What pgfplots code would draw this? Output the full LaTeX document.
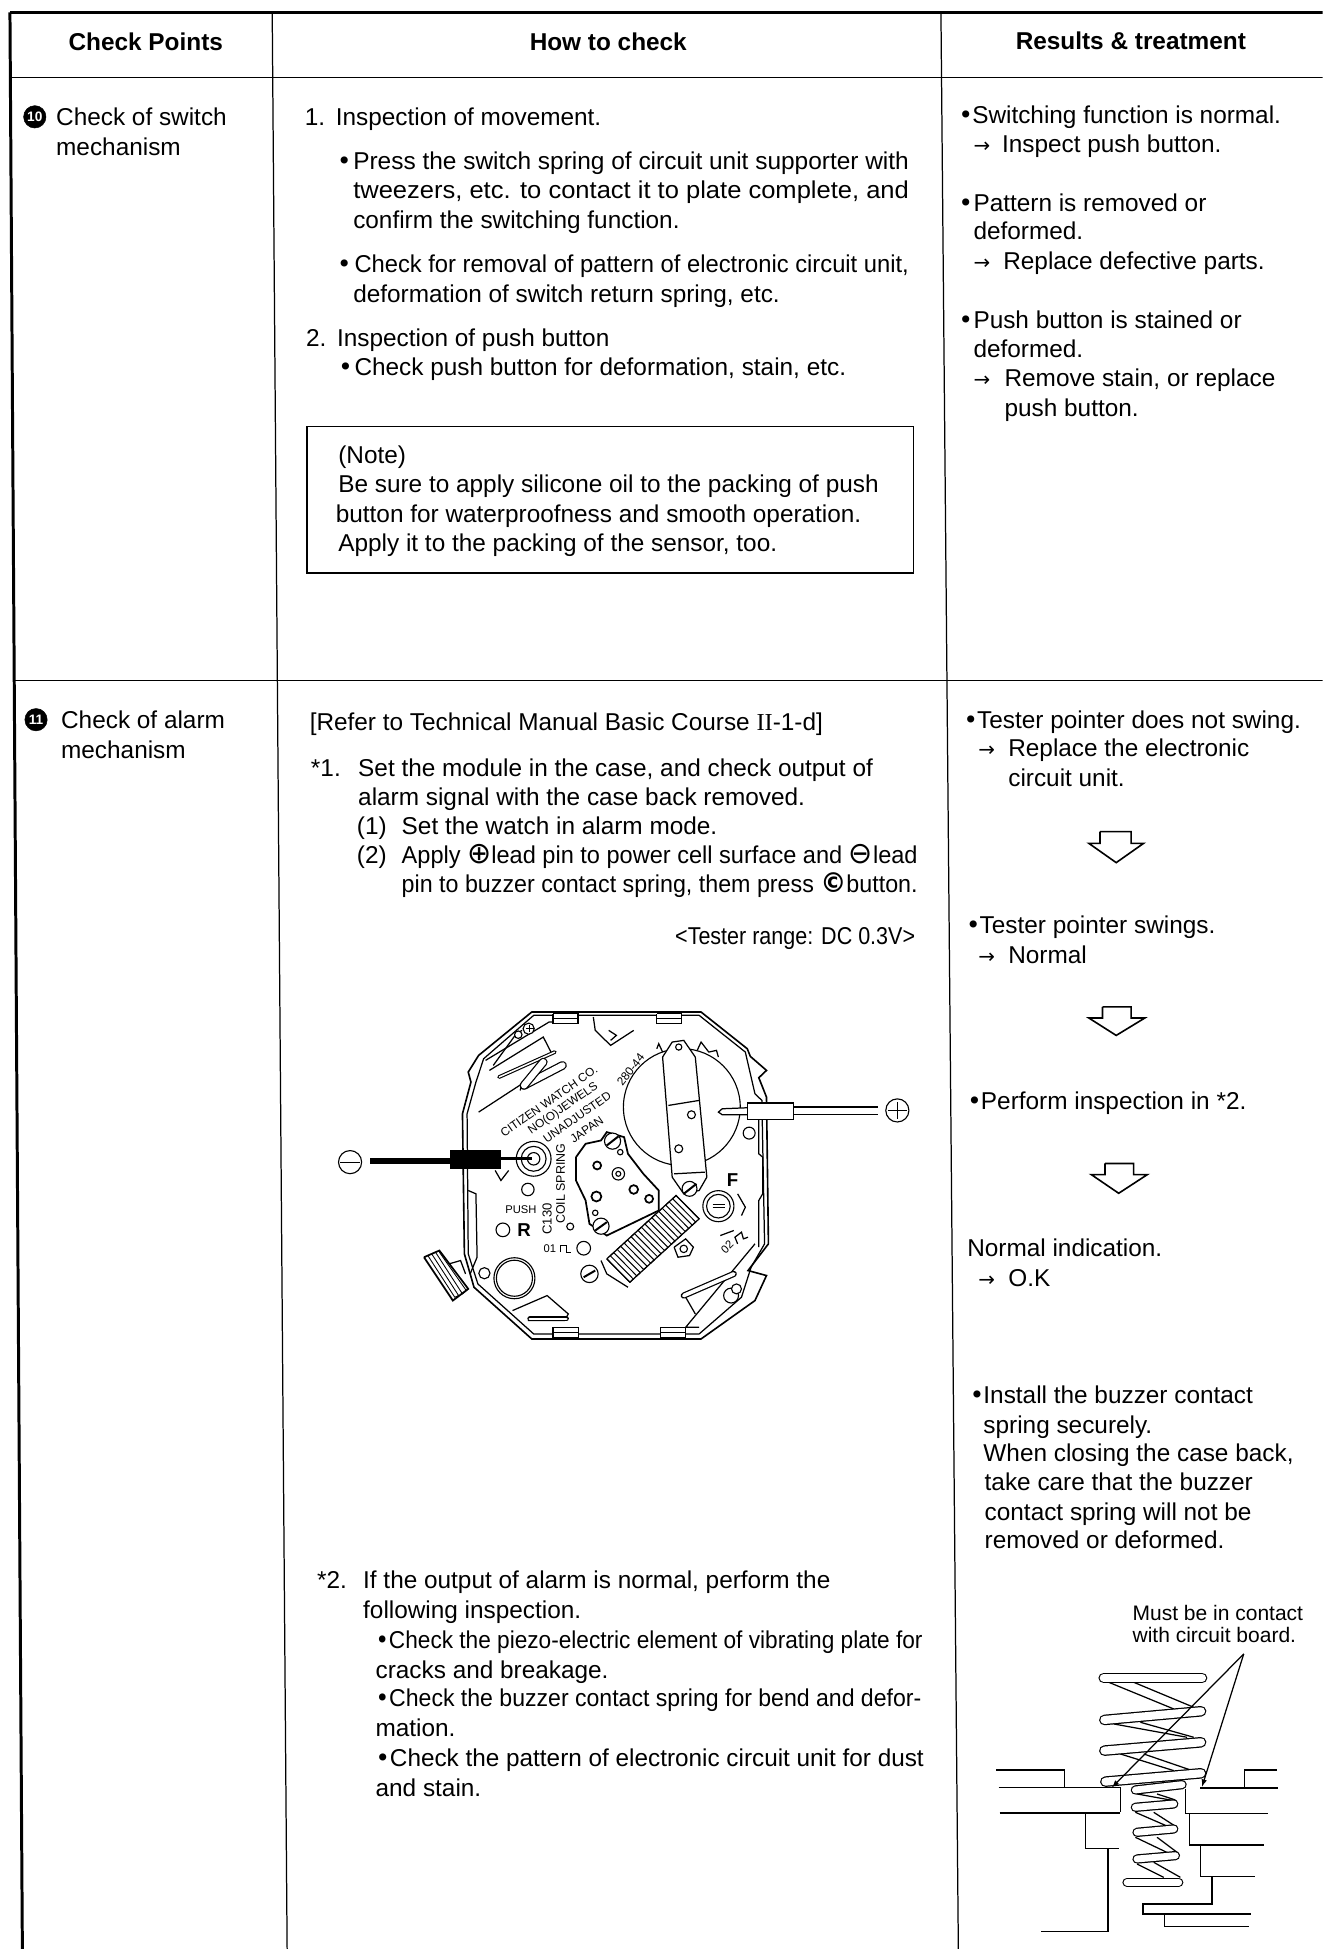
\documentclass[border=0pt]{standalone}
\usepackage{fontspec}
\setmainfont{Liberation Sans}
\newfontfamily\dejavu{DejaVu Sans}
\newfontfamily\serifroman{Liberation Serif}
\usepackage{pgfplots}
\pgfplotsset{compat=1.18}
\pgfplotsset{every axis/.append style={clip marker paths=true}}
\newcommand\Lp[2][]{\addplot[black,line width=1pt,forget plot,#1] coordinates {#2};}
\newcommand\Fp[2][]{\addplot[black,fill=white,line width=1pt,forget plot,#1] coordinates {#2};}
\newcommand\Cc[3][]{\addplot[only marks,mark=*,mark size=#2pt,forget plot,mark options={fill=white,draw=black,line width=.9pt,#1}] coordinates {(#3)};}
\newcommand\Tf{\fontsize{19.6}{23}\selectfont}
\newcommand\T[3]{\node[anchor=base west,inner sep=0pt,font=\Tf] at (axis cs:#1,#2) {#3};}
\newcommand\B[3]{\node[anchor=base west,inner sep=0pt,font=\Tf\bfseries] at (axis cs:#1,#2) {#3};}
\newcommand\W[4]{\node[anchor=base west,inner sep=0pt,font=\Tf] at (axis cs:#1,#3) {\resizebox{\dimexpr#2pt-#1pt\relax}{\height}{#4}};}
\newcommand\Ar[2]{\node[anchor=base west,inner sep=0pt,font=\fontsize{16}{18}\selectfont\dejavu] at (axis cs:#1,#2) {→};}
\newcommand\Sy[1]{{\dejavu #1}}
\newcommand\Bu{{\dejavu •}}
\newcommand\Sm[6][0]{\node[inner sep=0pt,rotate=#1,font=\fontsize{#5}{#5}\selectfont#6] at (axis cs:#2,#3) {#4};}
\newcommand\St[3][8.5]{\addplot[black,line width=#1pt,line cap=round,forget plot] coordinates {#2 #3};
 \addplot[white,line width=\dimexpr#1pt-2pt\relax,line cap=round,forget plot] coordinates {#2 #3};}
\begin{document}
\begin{tikzpicture}
\path[use as bounding box] (0pt,0pt) rectangle (1064pt,1568pt);
\begin{axis}[at={(0pt,0pt)},anchor=south west,scale only axis,width=1064pt,height=1568pt,
 xmin=0,xmax=1064,ymin=0,ymax=1568,y dir=reverse,axis lines=none,clip=true]
% table rules
\Lp[line width=2.4pt]{(8,10) (1064,10)}
\Lp[line width=2.4pt]{(8,10) (18,1568)}
\Lp{(219,10) (231,1568)}
\Lp{(757,10) (771,1568)}
\Lp{(9,62.5) (1064,62.5)}
\Lp{(12,547.5) (1064,547.5)}
% note box
\Lp{(247,343) (735,343) (735,461) (247,461) (247,343)}
% headers
\B{55}{41}{Check Points}
\B{426}{41}{How to check}
\B{817}{40}{Results \& treatment}
% first row, left
\addplot[only marks,mark=*,mark size=9pt,black,forget plot] coordinates {(28,94)};
\node[font=\fontsize{11}{12}\selectfont\bfseries,text=white,inner sep=0pt] at (axis cs:28,94) {10};
\T{45}{101}{Check of switch}
\T{45}{125}{mechanism}
% first row, middle
\T{245}{101}{1.}\T{270}{101}{Inspection of movement.}
\T{271}{136}{\Bu}\W{284}{731}{136}{Press the switch spring of circuit unit supporter with}
\W{284}{731}{160}{tweezers, etc. to contact it to plate complete, and}
\T{284}{184}{confirm the switching function.}
\T{271}{219}{\Bu}\W{285}{731}{219}{Check for removal of pattern of electronic circuit unit,}
\T{284}{243}{deformation of switch return spring, etc.}
\T{246}{279}{2.}\T{271}{279}{Inspection of push button}
\T{272}{302}{\Bu}\T{285}{302}{Check push button for deformation, stain, etc.}
\T{272}{373}{(Note)}
\T{272}{396}{Be sure to apply silicone oil to the packing of push}
\T{270}{420}{button for waterproofness and smooth operation.}
\T{272}{444}{Apply it to the packing of the sensor, too.}
% first row, right
\T{771}{99}{\Bu}\T{782}{99}{Switching function is normal.}
\Ar{783}{123}\T{806}{123}{Inspect push button.}
\T{771}{170}{\Bu}\T{783}{170}{Pattern is removed or}
\T{783}{193}{deformed.}
\Ar{783}{217}\T{807}{217}{Replace defective parts.}
\T{771}{264}{\Bu}\T{783}{264}{Push button is stained or}
\T{783}{288}{deformed.}
\Ar{783}{311}\T{808}{311}{Remove stain, or replace}
\T{808}{335}{push button.}
% second row, left
\addplot[only marks,mark=*,mark size=9pt,black,forget plot] coordinates {(29,579)};
\node[font=\fontsize{11}{12}\selectfont\bfseries,text=white,inner sep=0pt] at (axis cs:29,579) {11};
\T{49}{586}{Check of alarm}
\T{49}{610}{mechanism}
% second row, middle
\T{249}{588}{[Refer to Technical Manual Basic Course {\serifroman II}-1-d]}
\T{250}{625}{*1.}\T{288}{625}{Set the module in the case, and check output of}
\T{288}{648}{alarm signal with the case back removed.}
\T{287}{671}{(1)}\T{323}{671}{Set the watch in alarm mode.}
\T{287}{695}{(2)}\W{323}{738}{695}{Apply {\fontsize{24}{24}\selectfont\dejavu ⊕}lead pin to power cell surface and {\fontsize{24}{24}\selectfont\dejavu ⊖}lead}
\W{323}{738}{718}{pin to buzzer contact spring, them press {\fontsize{22}{22}\selectfont\dejavu\bfseries©}button.}
\W{543}{736}{760}{<Tester range: DC 0.3V>}
\T{255}{1278}{*2.}\T{292}{1278}{If the output of alarm is normal, perform the}
\T{292}{1302}{following inspection.}
\W{302}{742}{1326}{\Bu Check the piezo-electric element of vibrating plate for}
\T{302}{1350}{cracks and breakage.}
\W{302}{741}{1373}{\Bu Check the buzzer contact spring for bend and defor-}
\T{302}{1397}{mation.}
\W{302}{743}{1421}{\Bu Check the pattern of electronic circuit unit for dust}
\T{302}{1445}{and stain.}
% second row, right
\T{775}{586}{\Bu}\T{786}{586}{Tester pointer does not swing.}
\Ar{787}{609}\T{811}{609}{Replace the electronic}
\T{811}{633}{circuit unit.}
\T{777}{751}{\Bu}\T{788}{751}{Tester pointer swings.}
\Ar{787}{775}\T{811}{775}{Normal}
\T{778}{893}{\Bu}\T{789}{893}{Perform inspection in *2.}
\T{778}{1011}{Normal indication.}
\Ar{787}{1035}\T{811}{1035}{O.K}
\T{780}{1129}{\Bu}\T{791}{1129}{Install the buzzer contact}
\T{791}{1153}{spring securely.}
\T{791}{1176}{When closing the case back,}
\T{792}{1199}{take care that the buzzer}
\T{792}{1223}{contact spring will not be}
\T{792}{1246}{removed or deformed.}
% hollow arrows
\Lp[line width=1.3pt]{(885,669) (910,669) (910,678.5) (920,678.5) (898,694) (876,678.5) (885,678.5) (885,669)}
\Lp[line width=1.3pt]{(887,810) (910,810) (910,819) (921,819) (898,833) (876,819) (887,819) (887,810)}
\Lp[line width=1.3pt]{(889,936) (912,936) (912,945) (923,945) (900,960) (878,945) (889,945) (889,936)}
% spring caption
\node[anchor=base west,inner sep=0pt,font=\fontsize{16.9}{18}\selectfont] at (axis cs:911,1304) {Must be in contact};
\node[anchor=base west,inner sep=0pt,font=\fontsize{16.9}{18}\selectfont] at (axis cs:911,1321) {with circuit board.};
\end{axis}
% ---------- watch movement
\begin{axis}[at={(257.5pt,465.3pt)},anchor=south west,scale only axis,width=483pt,height=314pt,
 xmin=0,xmax=1560,ymin=0,ymax=1170,y dir=reverse,axis lines=none,clip=true]
% outline
\Lp[line width=1.3pt]{(550,95) (990,95) (1110,205) (1118,228) (1160,270) (1140,292) (1160,350) (1165,790) (1112,870) (1160,885) (1130,960) (990,1075) (550,1075) (400,920) (375,820) (370,400) (392,305) (385,275) (412,225) (550,95)}
\Lp{(555,105) (985,105) (1105,215) (1130,340) (1148,360) (1155,790) (1120,860) (1095,950) (985,1060) (555,1060) (410,910) (385,820) (382,400) (405,305) (425,235) (555,105)}
\Lp{(412,395) (525,310) (520,330)}
\Lp{(385,630) (405,640) (408,830) (390,880)}
\Lp{(1140,400) (1140,520) (1150,530) (1150,640) (1140,660) (1140,800)}
\Lp{(1130,790) (950,1040) (985,1040)}
\Lp{(430,240) (595,125) (610,125)}
\Lp{(450,255) (510,160) (525,150)}
\Lp{(440,270) (580,170) (600,215)}
% clips
\Fp{(605,100) (670,100) (670,130) (605,130) (605,100)}
\Fp{(875,100) (940,100) (940,130) (875,130) (875,100)}
\Lp{(605,115) (670,115)} \Lp{(875,115) (940,115)}
\Fp{(605,1040) (672,1040) (672,1070) (605,1070) (605,1040)}
\Fp{(885,1040) (950,1040) (950,1070) (885,1070) (885,1040)}
\Lp{(605,1055) (672,1055)} \Lp{(885,1055) (950,1055)}
\Lp{(710,110) (715,150) (755,195) (815,150)} \Lp{(750,150) (770,165) (755,180)}
% springs upper left
\Lp[line width=3pt,line cap=round]{(465,290) (610,215)}
\Lp[white,line width=1.2pt]{(465,290) (610,215)}
\Lp[line width=7pt,line cap=round]{(530,315) (630,255)}
\Lp[white,line width=5pt,line cap=round]{(530,315) (630,255)}
\Lp[line width=7pt,line cap=round]{(530,315) (580,245)}
\Lp[white,line width=5pt,line cap=round]{(530,315) (580,245)}
\Cc{3}{515,163} \Cc{4.5}{542,145}
\Lp{(545,135) (545,155)} \Lp{(535,145) (555,145)}
% battery
\Cc{47}{940,380}
\Fp{(890,230) (915,185) (945,180) (975,230) (1005,590) (985,630) (945,640) (915,590) (890,230)}
\Lp{(905,375) (985,360)} \Lp{(920,580) (1000,575)}
\Cc{3.2}{965,403} \Cc{3.2}{932,505} \Cc{2.5}{932,200}
\Lp{(875,205) (880,190) (890,215)} \Lp{(980,210) (990,185) (1010,215) (1030,210) (1035,230)}
% + lead
\Lp{(1230,380) (1450,380)} \Lp{(1230,402) (1450,402)}
\Fp{(1110,382) (1045,385) (1035,395) (1045,403) (1110,403)}
\Fp{(1110,368) (1230,368) (1230,418) (1110,418) (1110,368)}
\Cc{9.3}{1500,390}
\Lp{(1475,390) (1525,390)} \Lp{(1500,365) (1500,415)}
% - lead
\Cc{14}{555,535} \Cc{10}{555,535} \Cc{5}{555,535}
\Lp[line width=5pt]{(130,542) (340,542)}
\Fp[fill=black]{(340,510) (468,510) (468,565) (340,565) (340,510)}
\Lp[line width=2.2pt]{(468,535) (550,535)}
\Cc{9.3}{78,545}
\Lp{(52,545) (104,545)}
\Lp{(455,570) (470,600) (490,570)}
% circuit block
\Fp[line width=1.4pt]{(665,530) (690,490) (730,480) (745,455) (790,470) (800,520) (840,580) (880,630) (880,690) (745,765) (700,730) (690,660) (665,600) (665,530)}
\Cc{6.5}{760,482} \Cc{6.5}{730,737}
\Lp[line width=1.6pt]{(745,495) (775,468)} \Lp[line width=1.6pt]{(715,750) (745,725)}
\Cc[line width=1.4pt]{3.2}{720,555} \Cc{5}{775,580} \Cc{2}{775,580} \Cc[line width=1.4pt]{3.5}{815,627} \Cc[line width=1.4pt]{3.2}{855,655} \Cc[line width=1.4pt]{4}{718,648}
\Cc{2.2}{780,515} \Cc{2.2}{715,697}
% coil and screw
\Fp{(745,835) (925,645) (985,715) (805,905) (745,835)}
\Lp[line width=.8pt]{(745,835) (805,905) (814,895.5) (754,825.5) (763,816) (823,886) (832,876.5) (772,806.5) (781,797) (841,867) (850,857.5) (790,787.5) (799,778) (859,848) (868,838.5) (808,768.5) (817,759) (877,829) (886,819.5) (826,749.5) (835,740) (895,810) (904,800.5) (844,730.5) (853,721) (913,791) (922,781.5) (862,711.5) (871,702) (931,772) (940,762.5) (880,692.5) (889,683) (949,753) (958,743.5) (898,673.5) (907,664) (967,734) (976,724.5) (916,654.5) (925,645) (985,715)}
\Lp{(730,840) (745,880) (800,920)}
\Cc{6}{960,625} \Lp[line width=1.6pt]{(945,640) (978,610)}
\Fp{(920,800) (950,775) (970,800) (960,825) (930,830) (920,800)}
\Cc{3}{945,805}
\Cc{7}{700,880} \Lp[line width=1.6pt]{(685,890) (715,870)}
% F button
\Cc{12.5}{1035,677} \Cc{9.5}{1035,677}
\Lp{(1020,672) (1052,672)} \Lp{(1020,682) (1052,682)}
\Lp{(1085,640) (1105,680) (1095,705)}
\Lp{(1040,765) (1075,750)}
% lower parts
\Cc{16.5}{505,893} \Cc{14.5}{505,893}
\Cc{4.5}{427,878}
\Lp[line width=5pt,line cap=round]{(945,945) (1075,880)}
\Lp[white,line width=3pt,line cap=round]{(945,945) (1075,880)}
\Lp{(950,950) (975,1000)}
\Cc{6}{1068,945} \Cc{4}{1082,925}
\Lp{(500,990) (590,945) (645,1000) (635,1020) (540,1020)}
\Lp[line width=4pt,line cap=round]{(545,1015) (640,1015)}
\Lp[white,line width=2.2pt,line cap=round]{(545,1015) (640,1015)}
\Cc{4.8}{1115,458}
\Cc{5}{540,627} \Cc{5.5}{475,748} \Cc{2.8}{650,738} \Cc{5.5}{685,803}
% crown
\Fp[line width=1.4pt]{(270,830) (310,810) (385,925) (345,960) (270,830)}
\Lp[line width=.7pt]{(280,825) (350,950) (360,945) (290,820) (300,815) (370,940) (380,930) (310,815)}
\Lp{(335,850) (365,840) (378,880)}
% printed text
\Sm[35]{595}{362}{CITIZEN WATCH CO.}{9.5}{}
\Sm[35]{632}{385}{NO(O)JEWELS}{9.5}{}
\Sm[35]{668}{410}{UNADJUSTED}{9.5}{}
\Sm[35]{693}{448}{JAPAN}{9.5}{}
\Sm[52]{807}{268}{280-44}{9.5}{}
\Sm[90]{625}{610}{COIL SPRING}{10}{}
\Sm[90]{590}{715}{C130}{10.5}{}
\Sm[0]{522}{686}{PUSH}{9}{}
\Sm[0]{530}{750}{R}{15}{\bfseries}
\Sm[0]{1072}{600}{F}{15}{\bfseries}
\Sm[0]{597}{804}{01}{9}{}
\Lp{(625,815) (625,795) (640,795) (640,815) (652,815)}
\Sm[45]{1058}{800}{02}{9}{}
\Lp{(1085,790) (1078,770) (1095,755) (1100,775) (1112,770)}
\end{axis}
% ---------- buzzer spring
\begin{axis}[at={(772.6pt,0pt)},anchor=south west,scale only axis,width=291.3pt,height=296.4pt,
 xmin=0,xmax=1086,ymin=0,ymax=1105,y dir=reverse,axis lines=none,clip=true]
\Lp{(108,568) (312,568) (312,620)}
\Lp{(115,620) (480,620) (480,695)}
\Lp{(118,697) (480,697)}
\Lp{(375,697) (375,803) (475,803)}
\Lp{(443,803) (443,1052) (243,1052)}
\Lp{(720,622) (953,622)}
\Lp{(852,622) (852,568) (950,568)}
\Lp{(675,625) (675,698) (923,698)}
\Lp{(687,700) (687,793) (910,793)}
\Lp{(720,793) (720,888) (885,888)}
\Lp{(755,888) (755,970) (548,970) (548,1000) (872,1000)}
\Lp{(613,1000) (613,1038) (865,1038)}
% coil links
\Lp{(445,305) (640,385)} \Lp{(520,305) (700,380)}
\Lp{(460,430) (680,470)} \Lp{(540,425) (700,470)}
\Lp{(480,520) (640,570)} \Lp{(550,520) (690,568)}
\Lp{(530,640) (640,660)} \Lp{(590,640) (645,658)}
\Lp{(525,695) (640,745)} \Lp{(580,695) (650,740)}
\Lp{(525,770) (640,825)} \Lp{(590,770) (650,815)}
\Lp{(530,850) (610,890)} \Lp{(580,845) (660,890)}
% coils
\St{(430,292)}{(725,292)}
\St{(432,418)}{(722,392)}
\St{(432,510)}{(722,485)}
\St{(435,603)}{(722,578)}
\St[7.5]{(525,628)}{(665,612)}
\St[7.5]{(525,680)}{(640,670)}
\St[7.5]{(530,755)}{(640,745)}
\St[7.5]{(530,835)}{(645,825)}
\St[7.5]{(500,905)}{(655,905)}
% pointers
\addplot[black,line width=1pt,-latex,forget plot] coordinates {(850,220) (455,620)};
\addplot[black,line width=1pt,-latex,forget plot] coordinates {(850,220) (725,618)};
\end{axis}
\end{tikzpicture}
\end{document}
